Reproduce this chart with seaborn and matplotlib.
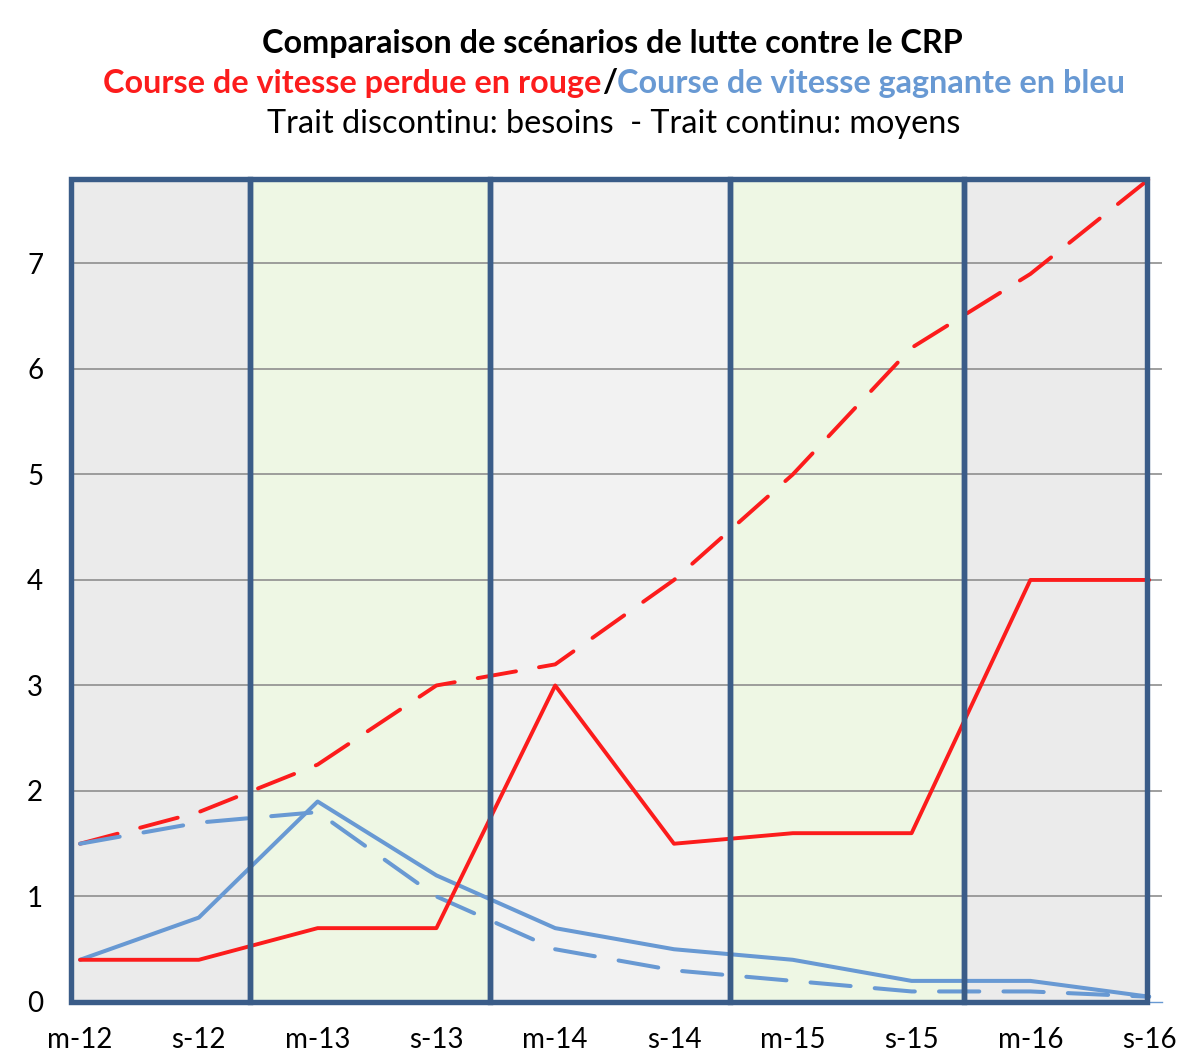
import matplotlib
matplotlib.use("Agg")
import matplotlib.pyplot as plt
import seaborn as sns
import pandas as pd
from matplotlib.patches import Rectangle

# ---- data ----
categories = ["m-12", "s-12", "m-13", "s-13", "m-14", "s-14", "m-15", "s-15", "m-16", "s-16"]
rouge_besoins = [1.5, 1.8, 2.25, 3.0, 3.2, 4.0, 5.0, 6.2, 6.9, 7.8]
rouge_moyens = [0.4, 0.4, 0.7, 0.7, 3.0, 1.5, 1.6, 1.6, 4.0, 4.0]
bleu_besoins = [1.5, 1.7, 1.8, 1.0, 0.5, 0.3, 0.2, 0.1, 0.1, 0.05]
bleu_moyens = [0.4, 0.8, 1.9, 1.2, 0.7, 0.5, 0.4, 0.2, 0.2, 0.05]
y_ticks = [0, 1, 2, 3, 4, 5, 6, 7]

title1 = "Comparaison de scénarios de lutte contre le CRP"
title2_red = "Course de vitesse perdue en rouge"
title2_sep = "/"
title2_blue = "Course de vitesse gagnante en bleu"
title3 = "Trait discontinu: besoins  - Trait continu: moyens"

# ---- style ----
sns.set_style("white")
FONT = ["Lato", "DejaVu Sans"]
plt.rcParams["font.family"] = FONT

RED = "#fc1c1c"
BLUE = "#6899d3"
FRAME = "#3a5c88"
GRID = "#8e8e8e"

W, H = 1182, 1059
fig = plt.figure(figsize=(W / 100, H / 100), dpi=100)
ax_left, ax_right, ax_top, ax_bottom = 71, 1162, 179, 1002
ax = fig.add_axes([ax_left / W, 1 - ax_bottom / H, (ax_right - ax_left) / W, (ax_bottom - ax_top) / H])

x = list(range(len(categories)))
df = pd.DataFrame({"x": x, "rb": rouge_besoins, "rm": rouge_moyens, "bb": bleu_besoins, "bm": bleu_moyens})

ax.set_xlim(-0.076, 9.108)
ax.set_ylim(0, 7.8)

# background bands (layout)
band_edges = [-0.078, 1.427, 3.45, 5.47, 7.44, 8.985]
band_colors = ["#ebebeb", "#eef7e4", "#f2f2f2", "#eef7e4", "#ebebeb"]
for i, c in enumerate(band_colors):
    ax.add_patch(Rectangle((band_edges[i], 0), band_edges[i + 1] - band_edges[i], 7.8,
                           facecolor=c, edgecolor="none", zorder=0))

# grid
for yv in y_ticks[1:]:
    ax.axhline(yv, color=GRID, lw=1.2, zorder=1)

dash = (0, (10, 6))
sns.lineplot(data=df, x="x", y="rb", ax=ax, color=RED, lw=2.8, linestyle=dash, dash_capstyle="round", zorder=3)
sns.lineplot(data=df, x="x", y="bb", ax=ax, color=BLUE, lw=2.9, linestyle=dash, dash_capstyle="round", zorder=3)
sns.lineplot(data=df, x="x", y="bm", ax=ax, color=BLUE, lw=2.9, zorder=3)
sns.lineplot(data=df, x="x", y="rm", ax=ax, color=RED, lw=2.8, zorder=4)

# frames
for i in range(len(band_colors)):
    ax.add_patch(Rectangle((band_edges[i], 0), band_edges[i + 1] - band_edges[i], 7.8,
                           facecolor="none", edgecolor=FRAME, lw=3.9, zorder=6,
                           clip_on=False, joinstyle="miter"))

# axes styling
for s in ["top", "right", "left"]:
    ax.spines[s].set_visible(False)
ax.spines["bottom"].set_color(BLUE)
ax.spines["bottom"].set_linewidth(1.0)
ax.spines["bottom"].set_zorder(2)

ax.set_xticks(x)
ax.set_xticklabels(categories)
ax.set_xticks([-0.076 + 0.5 * k for k in range(19)], minor=True)
ax.tick_params(axis="x", which="major", length=0, pad=18, labelsize=20, labelcolor="black")
ax.tick_params(axis="x", which="minor", length=6, width=1.0, color=BLUE)
ax.set_yticks(y_ticks)
ax.set_yticklabels([str(v) for v in y_ticks])
ax.tick_params(axis="y", length=0, pad=20, labelsize=20, labelcolor="black")
ax.set_xlabel("")
ax.set_ylabel("")
ax.grid(False)

# titles
TS = 23.3
fig.text(612 / W, 1 - 44 / H, title1, ha="center", va="center", fontsize=TS, fontweight="bold", color="black")
fig.text(614 / W, 1 - 124 / H, title3, ha="center", va="center", fontsize=TS, color="black")

renderer = fig.canvas.get_renderer()
parts = [(title2_red, RED), (title2_sep, "black"), (title2_blue, BLUE)]
texts = []
for s, c in parts:
    t = fig.text(0, 1 - 83 / H, s, ha="left", va="center", fontsize=TS, fontweight="bold", color=c)
    texts.append(t)
widths = [t.get_window_extent(renderer).width for t in texts]
total = sum(widths)
start = 614 - total / 2
for t, w in zip(texts, widths):
    t.set_x(start / W)
    start += w

fig.savefig("out.png", dpi=100)
